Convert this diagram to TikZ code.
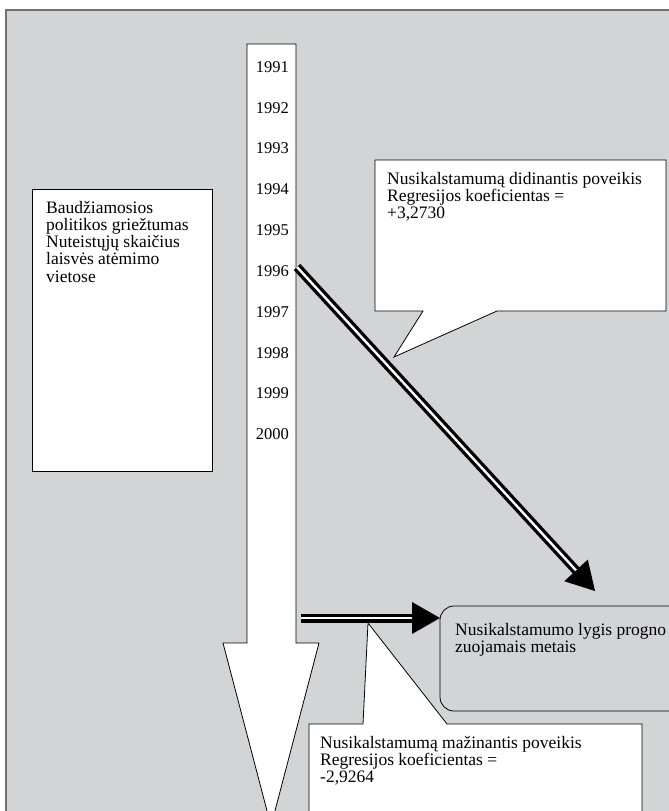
\documentclass[tikz,border=0pt]{standalone}
\usepackage{fontspec}
\setmainfont{Liberation Serif}
\usetikzlibrary{arrows.meta}
\definecolor{panel}{RGB}{211,212,214}
\definecolor{rim}{RGB}{112,112,112}
\begin{document}
\begin{tikzpicture}[x=1pt,y=-1pt,>={Triangle[length=28pt,width=32pt,line width=0pt]},
  txt/.style={anchor=north west,inner sep=0pt,align=left,font=\fontsize{17.5}{17.2}\selectfont},
  yr/.style={anchor=east,inner sep=0pt,font=\fontsize{16.5}{16.5}\selectfont},
  fat/.style={->,line width=9pt},
  core/.style={white,line width=2.4pt}]
\useasboundingbox (0,0) rectangle (669,811);
\clip (0,0) rectangle (669,811);
\draw[rim,line width=2pt,fill=panel](6,10) rectangle (700,840);
\draw[fill=white,line width=.8pt](247,44)--(296,44)--(296,643)--(319,643)--(271,826)--(223,643)--(247,643)--cycle;
\foreach \y [count=\i from 0] in {1991,...,2000}
  \node[yr] (y\y) at (289,67+40.8*\i) {\y};
\draw[fill=white,line width=.8pt](32,189) rectangle (212,471);
\node[txt] (politika) at (46,201) {Baudžiamosios\\politikos griežtumas\\Nuteistųjų skaičius\\laisvės atėmimo\\vietose};
\draw[fill=white,line width=.8pt](375,160)--(666,160)--(666,311)--(497,311)--(394,357)--(423,311)--(375,311)--cycle;
\node[txt] (didina) at (387,172) {Nusikalstamumą didinantis poveikis\\Regresijos koeficientas =\\+3,2730};
\draw[line width=.8pt,rounded corners=14pt](440,606) rectangle (720,711);
\node[txt] (prognoze) at (455,623) {Nusikalstamumo lygis progno\\zuojamais metais};
\draw[fill=white,line width=.8pt](309,724)--(363,724)--(368,623)--(447,724)--(642,724)--(642,840)--(309,840)--cycle;
\node[txt] (mazina) at (320,736) {Nusikalstamumą mažinantis poveikis\\Regresijos koeficientas =\\-2,9264};
\coordinate (d1) at (297,267);
\coordinate (d2) at (595,591);
\draw[fat](d1)--(d2);
\draw[core,shorten >=28pt](d1)--(d2);
\coordinate (h1) at (301,618);
\coordinate (h2) at (prognoze.west |- h1);
\draw[fat](h1)--([xshift=-15pt]h2);
\draw[core,shorten >=28pt](h1)--([xshift=-15pt]h2);
\end{tikzpicture}
\end{document}
